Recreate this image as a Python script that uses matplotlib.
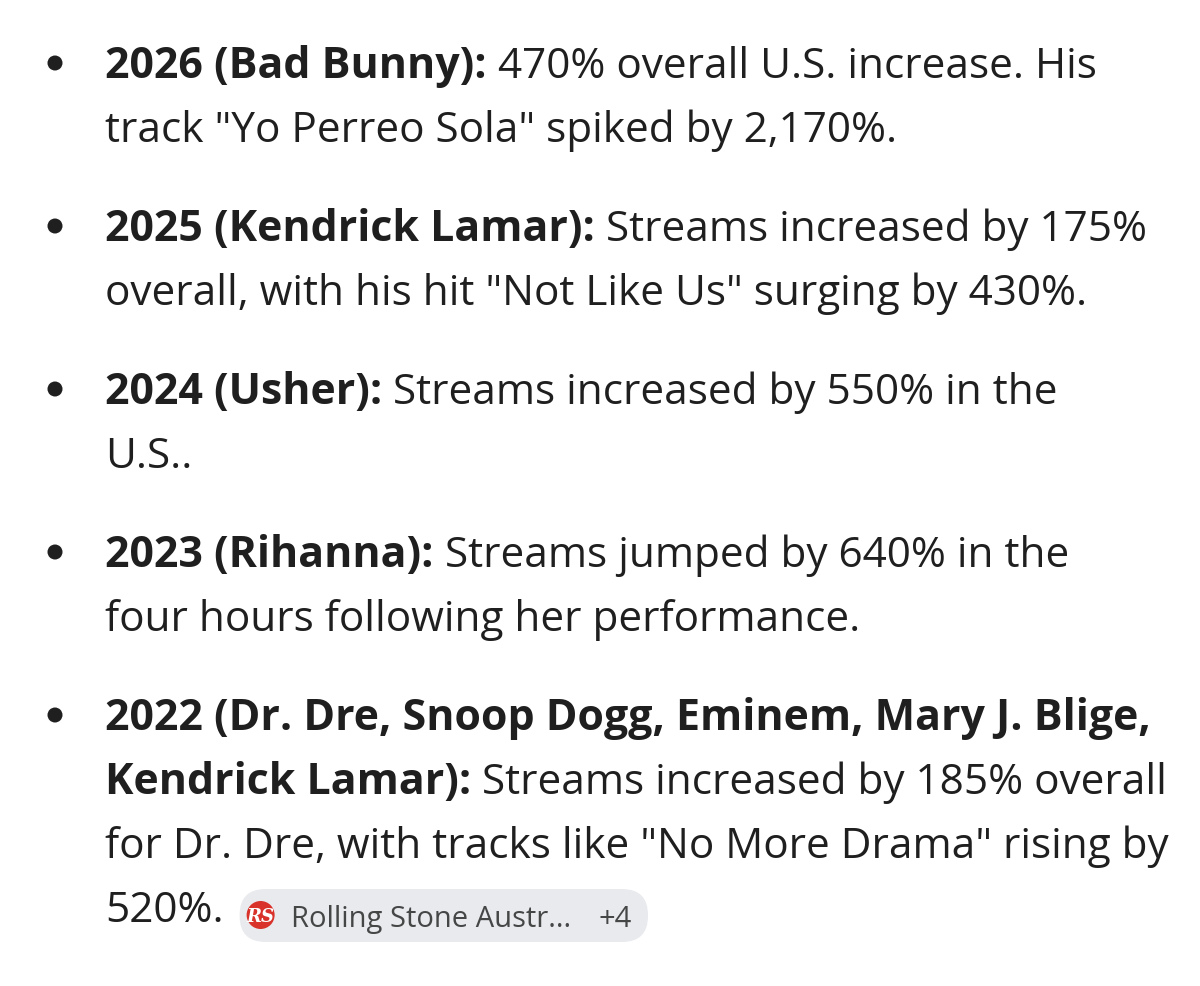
import matplotlib
matplotlib.use("Agg")
import matplotlib.pyplot as plt
from matplotlib.patches import Circle, FancyBboxPatch

# text content, one list of (bold part, regular part) per wrapped line
item_lines = [
    [("2026 (Bad Bunny):", "470% overall U.S. increase. His"),
     ("", 'track "Yo Perreo Sola" spiked by 2,170%.')],
    [("2025 (Kendrick Lamar):", "Streams increased by 175%"),
     ("", 'overall, with his hit "Not Like Us" surging by 430%.')],
    [("2024 (Usher):", "Streams increased by 550% in the"),
     ("", "U.S..")],
    [("2023 (Rihanna):", "Streams jumped by 640% in the"),
     ("", "four hours following her performance.")],
    [("2022 (Dr. Dre, Snoop Dogg, Eminem, Mary J. Blige,", ""),
     ("Kendrick Lamar):", "Streams increased by 185% overall"),
     ("", 'for Dr. Dre, with tracks like "No More Drama" rising by'),
     ("", "520%.")],
]
source_label = "Rolling Stone Austr..."
source_extra = "+4"

FONT = "Open Sans"
SIZE = 30.4
BOLD_SIZE = 30.9
TEXT_COLOR = "#1f1f1f"

fig = plt.figure(figsize=(12, 9.87), dpi=100)
ax = fig.add_axes([0, 0, 1, 1])
ax.set_xlim(0, 1200)
ax.set_ylim(987, 0)
ax.axis("off")
renderer = fig.canvas.get_renderer()


def text_width(s, weight, size):
    t = ax.text(0, 0, s, fontsize=size, family=FONT, fontweight=weight)
    w = t.get_window_extent(renderer).width
    t.remove()
    return w


space_w = text_width("a a", "bold", BOLD_SIZE) - text_width("aa", "bold", BOLD_SIZE)

x_text = 105
x_bullet = 55
y = 78
line_step = 64
item_gap = 99
for item in item_lines:
    ax.add_patch(Circle((x_bullet, y - 14), 7.5, color=TEXT_COLOR, lw=0))
    for i, (bold, regular) in enumerate(item):
        x = x_text
        if bold:
            ax.text(x, y, bold, fontsize=BOLD_SIZE, family=FONT, fontweight="bold",
                    color=TEXT_COLOR, va="baseline")
            x += text_width(bold, "bold", BOLD_SIZE) + space_w
        if regular:
            ax.text(x, y, regular, fontsize=SIZE, family=FONT,
                    color=TEXT_COLOR, va="baseline")
        last_y = y
        last_x = x + (text_width(regular, "normal", SIZE) if regular else 0)
        y += line_step
    y = last_y + item_gap

# source chip after the last line
chip_x = last_x + 16
chip = FancyBboxPatch((chip_x, 890), 648 - chip_x, 53,
                      boxstyle="round,pad=0,rounding_size=26",
                      fc="#e9eaee", ec="none")
ax.add_patch(chip)
ax.add_patch(Circle((chip_x + 21, 916), 14, color="#d8322b", lw=0))
ax.text(chip_x + 21, 917, "RS", fontsize=13, family="DejaVu Serif",
        fontweight="bold", style="italic", color="white",
        ha="center", va="center")
ax.text(chip_x + 51, 927, source_label, fontsize=21, family=FONT,
        color="#444746", va="baseline")
ax.text(598, 927, source_extra, fontsize=21, family=FONT,
        color="#444746", va="baseline")

fig.savefig("out.png", dpi=100, facecolor="white")
